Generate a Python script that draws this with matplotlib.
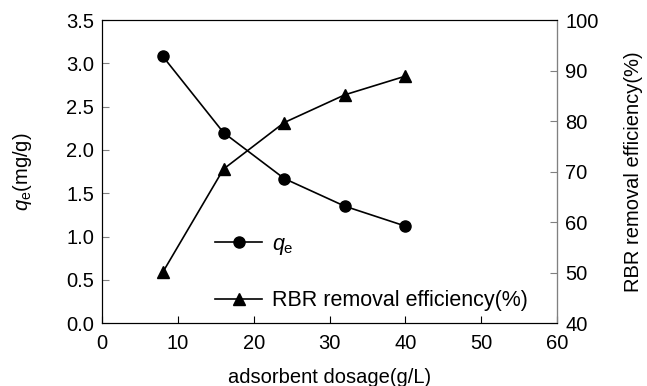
import matplotlib
matplotlib.use("Agg")
import matplotlib.pyplot as plt

plt.rcParams['font.family'] = ['Liberation Sans', 'DejaVu Sans']
plt.rcParams['mathtext.fontset'] = 'custom'
plt.rcParams['mathtext.rm'] = 'Liberation Sans'
plt.rcParams['mathtext.it'] = 'Liberation Sans:italic'

dosage = [8, 16, 24, 32, 40]
qe = [3.08, 2.20, 1.67, 1.35, 1.12]
removal = [50.1, 70.5, 79.7, 85.2, 88.9]

x_ticks = [0, 10, 20, 30, 40, 50, 60]
left_ticks = [0.0, 0.5, 1.0, 1.5, 2.0, 2.5, 3.0, 3.5]
right_ticks = [40, 50, 60, 70, 80, 90, 100]

fig = plt.figure(figsize=(6.47, 3.86), dpi=100)
ax = fig.add_axes([0.158, 0.163, 0.703, 0.785])
ax2 = ax.twinx()

l1, = ax.plot(dosage, qe, color='black', marker='o', markersize=8, lw=1.2,
              label=r'$q_\mathrm{e}$')
l2, = ax2.plot(dosage, removal, color='black', marker='^', markersize=8, lw=1.2,
               label='RBR removal efficiency(%)')

ax.set_xlim(0, 60)
ax.set_ylim(0, 3.5)
ax2.set_ylim(40, 100)
ax.set_xticks(x_ticks)
ax.set_yticks(left_ticks)
ax.set_yticklabels([f'{v:.1f}' for v in left_ticks])
ax2.set_yticks(right_ticks)

fs = 14.5
ax.tick_params(axis='x', direction='in', length=5, labelsize=fs, pad=8, top=False)
ax.tick_params(axis='y', direction='in', length=5, labelsize=fs, color='#808080', pad=6)
ax2.tick_params(axis='y', direction='in', length=5, labelsize=fs, color='#808080', pad=6)

for s in ['top', 'left', 'bottom']:
    ax.spines[s].set_color('black')
ax2.spines['right'].set_color('#808080')
ax2.spines['top'].set_color('black')

ax.set_xlabel('adsorbent dosage(g/L)', fontsize=fs, labelpad=11)
ax.set_ylabel(r'$q_\mathrm{e}$(mg/g)', fontsize=fs, labelpad=23)
ax2.set_ylabel('RBR removal efficiency(%)', fontsize=fs, labelpad=18)

leg = ax2.legend(handles=[l1, l2], loc='lower left', bbox_to_anchor=(0.205, -0.025),
                 frameon=False, fontsize=15.5, labelspacing=1.55, handlelength=2.2,
                 handletextpad=0.45)

fig.savefig('out.png', dpi=100)
